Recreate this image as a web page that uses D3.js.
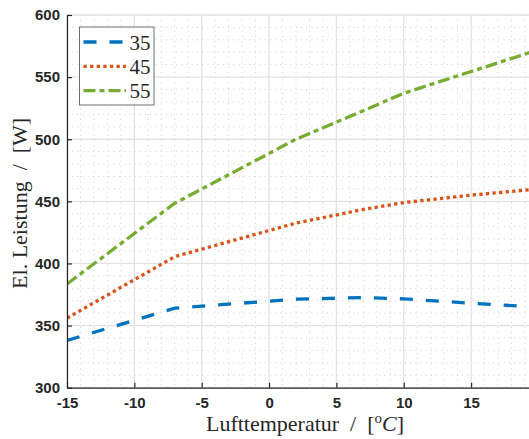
<!DOCTYPE html>
<html>
<head>
<meta charset="utf-8">
<script src="https://cdn.jsdelivr.net/npm/d3@7/dist/d3.min.js"></script>
<style>
  html, body { margin: 0; padding: 0; background: #fff; }
  svg { display: block; }
</style>
</head>
<body>
<svg id="chart" width="529" height="439"></svg>
<script>
// Air temperature (°C) at which the electrical power was evaluated
const temps = [-15, -7, 2, 7, 10, 15, 20];

// Electrical power input in W for three flow temperatures
const series35 = [338, 364, 371.3, 372.5, 371.5, 368, 364.8];
const series45 = [356, 405.5, 432.5, 443.5, 449, 455, 460];
const series55 = [383.5, 448.5, 500, 523, 537, 554.5, 572];

const seriesNames = ["35", "45", "55"];
const seriesColors = ["#0072BD", "#D95319", "#77AC30"];
const seriesDash = ["13,13", "3.3,3.3", "12,4,5,4"];

const xTicks = [-15, -10, -5, 0, 5, 10, 15];
const yTicks = [300, 350, 400, 450, 500, 550, 600];

(function () {
const svg = d3.select("#chart");

const x = d3.scaleLinear().domain([-15, 20]).range([67, 67 + 35 * 13.47]);
const y = d3.scaleLinear().domain([300, 600]).range([387.7, 15]);

const pLeft = x(-15), pRight = x(20), pTop = y(600), pBottom = y(300);

svg.append("defs").append("clipPath").attr("id", "plotclip")
  .append("rect").attr("x", pLeft).attr("y", pTop - 3)
  .attr("width", pRight - pLeft).attr("height", pBottom - pTop + 3);

// minor grid
const gMinor = svg.append("g");
d3.range(-15, 21, 1).filter(v => v % 5 !== 0).forEach(v => {
  gMinor.append("line").attr("x1", x(v)).attr("x2", x(v)).attr("y1", pTop).attr("y2", pBottom)
    .attr("stroke", "#cfcfcf").attr("stroke-width", 1).attr("stroke-dasharray", "1,4.2");
});
d3.range(300, 601, 10).filter(v => v % 50 !== 0).forEach(v => {
  gMinor.append("line").attr("x1", pLeft).attr("x2", pRight).attr("y1", y(v)).attr("y2", y(v))
    .attr("stroke", "#cfcfcf").attr("stroke-width", 1).attr("stroke-dasharray", "1,4.2");
});

// major grid
const gMajor = svg.append("g");
d3.range(-15, 21, 5).forEach(v => {
  gMajor.append("line").attr("x1", x(v)).attr("x2", x(v)).attr("y1", pTop).attr("y2", pBottom)
    .attr("stroke", "#e2e2e2").attr("stroke-width", 1.3);
});
yTicks.forEach(v => {
  gMajor.append("line").attr("x1", pLeft).attr("x2", pRight).attr("y1", y(v)).attr("y2", y(v))
    .attr("stroke", "#e2e2e2").attr("stroke-width", 1.3);
});

// data lines
const line = d3.line().x(d => x(d[0])).y(d => y(d[1]));
const allSeries = [series35, series45, series55];
const gLines = svg.append("g").attr("clip-path", "url(#plotclip)");
allSeries.forEach((s, i) => {
  gLines.append("path")
    .datum(temps.map((t, k) => [t, s[k]]))
    .attr("d", line)
    .attr("fill", "none")
    .attr("stroke", seriesColors[i])
    .attr("stroke-width", 3.3)
    .attr("stroke-dasharray", seriesDash[i]);
});

// axes
const tickFont = "'Liberation Sans', Arial, sans-serif";
const xAxis = d3.axisBottom(x).tickValues(xTicks).tickSize(-5).tickPadding(10).tickFormat(d3.format("d"));
const gx = svg.append("g").attr("transform", `translate(0,${pBottom})`).call(xAxis);
const yAxis = d3.axisLeft(y).tickValues(yTicks).tickSize(-5).tickPadding(7).tickFormat(d3.format("d"));
const gy = svg.append("g").attr("transform", `translate(${pLeft},0)`).call(yAxis);
[gx, gy].forEach(g => {
  g.select(".domain").attr("stroke", "#262626").attr("stroke-width", 1.2);
  g.selectAll(".tick line").attr("stroke", "#262626").attr("stroke-width", 1.2);
  g.selectAll(".tick text").attr("fill", "#262626")
    .style("font-family", tickFont).style("font-size", "15px").style("font-weight", "bold");
});
gx.select(".domain").attr("d", `M${pLeft},0.5H${pRight}`);
gy.select(".domain").attr("d", `M0.5,${pBottom}V${pTop}`);
gx.selectAll(".tick text").text(d => d < 0 ? "-" + Math.abs(d) : d);

// axis labels
const labelFont = "'Liberation Serif', 'Times New Roman', serif";
const xl = svg.append("text").attr("x", 305).attr("y", 431)
  .attr("text-anchor", "middle").attr("fill", "#262626")
  .style("font-family", labelFont).style("font-size", "22px");
xl.append("tspan").text("Lufttemperatur\u2002/\u2002[");
xl.append("tspan").attr("dy", -8).style("font-size", "15px").text("o");
xl.append("tspan").attr("dy", 8).style("font-style", "italic").text("C");
xl.append("tspan").text("]");

svg.append("text")
  .attr("transform", `translate(27,${(pTop + pBottom) / 2 + 2}) rotate(-90)`)
  .attr("text-anchor", "middle").attr("fill", "#262626")
  .style("font-family", labelFont).style("font-size", "22px")
  .text("El. Leistung\u2002/\u2002[W]");

// legend
const lg = svg.append("g");
lg.append("rect").attr("x", 79.5).attr("y", 27).attr("width", 74.5).attr("height", 78)
  .attr("fill", "#fff").attr("stroke", "#6e6e6e").attr("stroke-width", 1);
seriesNames.forEach((n, i) => {
  const yy = 42 + i * 24.3;
  lg.append("line").attr("x1", 83.5).attr("x2", 126).attr("y1", yy).attr("y2", yy)
    .attr("stroke", seriesColors[i]).attr("stroke-width", 3.3).attr("stroke-dasharray", seriesDash[i]);
  lg.append("text").attr("x", 129.5).attr("y", yy + 7.5).attr("fill", "#262626")
    .style("font-family", labelFont).style("font-size", "21px").text(n);
});
})();
</script>
</body>
</html>
